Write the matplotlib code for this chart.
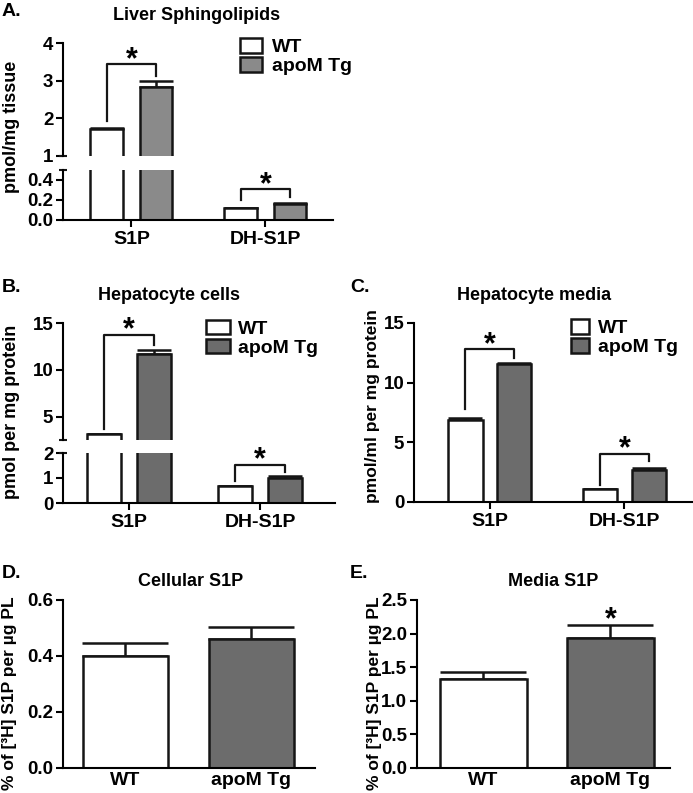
import matplotlib
matplotlib.use('Agg')
import matplotlib.pyplot as plt
from matplotlib.patches import Patch

plt.rcParams['font.family'] = ['Liberation Sans', 'DejaVu Sans']
plt.rcParams['font.weight'] = 'bold'
plt.rcParams['axes.linewidth'] = 1.5

# donnees
cats = ['S1P', 'DH-S1P']
groups = ['WT', 'apoM Tg']

liver_wt = [1.73, 0.12]
liver_wt_err = [0.02, 0.005]
liver_tg = [2.83, 0.16]
liver_tg_err = [0.16, 0.008]

cells_wt = [3.1, 0.68]
cells_wt_err = [0.08, 0.02]
cells_tg = [11.7, 1.02]
cells_tg_err = [0.42, 0.05]

media_wt = [6.9, 1.05]
media_wt_err = [0.15, 0.05]
media_tg = [11.55, 2.72]
media_tg_err = [0.12, 0.1]

cellular_s1p = [0.40, 0.46]
cellular_s1p_err = [0.045, 0.045]
media_s1p = [1.33, 1.93]
media_s1p_err = [0.10, 0.20]

# crochets de significativite : (pied gauche, haut, pied droit)
liver_brackets = [(1.92, 3.44, 3.12), (0.20, 0.31, 0.23)]
cells_brackets = [(3.64, 13.75, 12.7), (0.87, 1.53, 1.23)]
media_brackets = [(7.8, 12.8, 12.1), (1.45, 4.05, 3.4)]

W, H = 693, 793
fig = plt.figure(figsize=(W / 100, H / 100), dpi=100)

GRIS_A = '#8a8a8a'
GRIS = '#6c6c6c'
NOIR = '#151515'
T_TICK = 13.5
T_CAT = 14
T_TITRE = 13
T_LEG = 14


def boite(x0, y0, x1, y1):
    return [x0 / W, 1 - y1 / H, (x1 - x0) / W, (y1 - y0) / H]


def style(ax, bas=True):
    ax.spines['top'].set_visible(False)
    ax.spines['right'].set_visible(False)
    ax.spines['bottom'].set_visible(bas)
    ax.tick_params(axis='y', direction='out', length=5, width=1.5, labelsize=T_TICK, pad=2)
    if bas:
        ax.tick_params(axis='x', direction='out', length=5, width=1.5, labelsize=T_CAT, pad=3)
    else:
        ax.tick_params(axis='x', bottom=False, labelbottom=False)


def barres(ax, wt, wt_err, tg, tg_err, larg, dec, gris, cap):
    x = range(len(wt))
    xw = [i - dec for i in x]
    xt = [i + dec for i in x]
    ax.bar(xw, wt, larg, color='white', edgecolor=NOIR, linewidth=1.8, zorder=2)
    ax.bar(xt, tg, larg, color=gris, edgecolor=NOIR, linewidth=1.8, zorder=2)
    ax.errorbar(xw, wt, yerr=[[0] * len(wt), wt_err], fmt='none', ecolor=NOIR,
                elinewidth=1.8, capsize=cap, capthick=1.8, zorder=1)
    ax.errorbar(xt, tg, yerr=[[0] * len(tg), tg_err], fmt='none', ecolor=NOIR,
                elinewidth=1.8, capsize=cap, capthick=1.8, zorder=1)


def etoile(ax, x, y):
    ax.annotate('*', xy=(x, y), xytext=(0, 3), textcoords='offset points',
                ha='center', va='center', fontsize=22, annotation_clip=False)


def crochet(ax, i, dec, b):
    g, h, d = b
    ax.plot([i - dec, i - dec, i + dec, i + dec], [g, h, h, d], color=NOIR,
            linewidth=1.6, clip_on=False)
    etoile(ax, i, h)


def coupure(ax, ou):
    # petit trait horizontal au bout de l'axe coupe
    y = ax.get_ylim()[0] if ou == 'bas' else ax.get_ylim()[1]
    ax.plot([0], [y], marker='_', markersize=6, markeredgewidth=1.5, color=NOIR,
            transform=ax.get_yaxis_transform(), clip_on=False)


def legende(ax, x, y, hl, hh, pad, gris):
    poignees = [Patch(facecolor='white', edgecolor=NOIR, linewidth=1.8),
                Patch(facecolor=gris, edgecolor=NOIR, linewidth=1.8)]
    ax.legend(poignees, groups, loc='upper left', bbox_to_anchor=(x / W, 1 - y / H),
              bbox_transform=fig.transFigure, frameon=False, fontsize=T_LEG,
              handlelength=hl, handleheight=hh, handletextpad=pad,
              labelspacing=0.05, borderpad=0, borderaxespad=0)


# ---- A. Liver Sphingolipids
dA = 0.183
axA1 = fig.add_axes(boite(63, 43, 333, 156))
axA2 = fig.add_axes(boite(63, 170, 333, 220))
for ax in (axA1, axA2):
    barres(ax, liver_wt, liver_wt_err, liver_tg, liver_tg_err, 0.246, dA, GRIS_A, 12)
    ax.set_xlim(-0.511, 1.504)
axA1.set_ylim(1, 4)
axA1.set_yticks([1, 2, 3, 4])
axA2.set_ylim(0, 0.5)
axA2.set_yticks([0.0, 0.2, 0.4])
axA2.set_yticklabels(['0.0', '0.2', '0.4'])
axA2.set_xticks([0, 1])
axA2.set_xticklabels(cats)
style(axA1, bas=False)
style(axA2)
coupure(axA1, 'bas')
coupure(axA2, 'haut')
crochet(axA1, 0, dA, liver_brackets[0])
crochet(axA2, 1, dA, liver_brackets[1])
legende(axA1, 240, 38, 1.13, 0.8, 0.5, GRIS_A)
fig.text(2 / W, 1 - 12 / H, 'A.', fontsize=14, va='center', ha='left')
fig.text(197 / W, 1 - 15 / H, 'Liver Sphingolipids', fontsize=T_TITRE, ha='center', va='center')
fig.text(12 / W, 1 - 127 / H, 'pmol/mg tissue', fontsize=13, rotation=90, ha='center', va='center')

# ---- B. Hepatocyte cells
dB = 0.19
axB1 = fig.add_axes(boite(63, 323, 335, 440))
axB2 = fig.add_axes(boite(63, 453, 335, 503))
for ax in (axB1, axB2):
    barres(ax, cells_wt, cells_wt_err, cells_tg, cells_tg_err, 0.26, dB, GRIS, 12)
    ax.set_xlim(-0.504, 1.57)
axB1.set_ylim(2.5, 15)
axB1.set_yticks([5, 10, 15])
axB2.set_ylim(0, 2)
axB2.set_yticks([0, 1, 2])
axB2.set_xticks([0, 1])
axB2.set_xticklabels(cats)
style(axB1, bas=False)
style(axB2)
coupure(axB1, 'bas')
coupure(axB2, 'haut')
crochet(axB1, 0, dB, cells_brackets[0])
crochet(axB2, 1, dB, cells_brackets[1])
legende(axB1, 206, 320, 1.25, 0.75, 0.4, GRIS)
fig.text(2 / W, 1 - 288 / H, 'B.', fontsize=14, va='center', ha='left')
fig.text(169 / W, 1 - 295 / H, 'Hepatocyte cells', fontsize=T_TITRE, ha='center', va='center')
fig.text(12 / W, 1 - 412 / H, 'pmol per mg protein', fontsize=13, rotation=90, ha='center', va='center')

# ---- C. Hepatocyte media
dC = 0.182
axC = fig.add_axes(boite(414, 323, 693, 502))
barres(axC, media_wt, media_wt_err, media_tg, media_tg_err, 0.253, dC, GRIS, 12)
axC.set_xlim(-0.565, 1.51)
axC.set_ylim(0, 15)
axC.set_yticks([0, 5, 10, 15])
axC.set_xticks([0, 1])
axC.set_xticklabels(cats)
style(axC)
crochet(axC, 0, dC, media_brackets[0])
crochet(axC, 1, dC, media_brackets[1])
legende(axC, 571, 319, 0.9, 0.78, 0.5, GRIS)
fig.text(350 / W, 1 - 287 / H, 'C.', fontsize=14, va='center', ha='left')
fig.text(534 / W, 1 - 295 / H, 'Hepatocyte media', fontsize=T_TITRE, ha='center', va='center')
fig.text(373 / W, 1 - 406 / H, 'pmol/ml per mg protein', fontsize=12.5, rotation=90, ha='center', va='center')

# ---- D. Cellular S1P
axD = fig.add_axes(boite(63, 600, 315, 768))
axD.bar(range(2), cellular_s1p, 0.675, color=['white', GRIS], edgecolor=NOIR, linewidth=1.8, zorder=2)
axD.errorbar(range(2), cellular_s1p, yerr=[[0, 0], cellular_s1p_err], fmt='none', ecolor=NOIR,
             elinewidth=1.8, capsize=31, capthick=1.8, zorder=1)
axD.set_xlim(-0.496, 1.504)
axD.set_ylim(0, 0.6)
axD.set_yticks([0.0, 0.2, 0.4, 0.6])
axD.set_yticklabels(['0.0', '0.2', '0.4', '0.6'])
axD.set_xticks([0, 1])
axD.set_xticklabels(groups)
style(axD)
axD.tick_params(axis='x', length=0)
fig.text(2 / W, 1 - 573 / H, 'D.', fontsize=14, va='center', ha='left')
fig.text(191 / W, 1 - 582 / H, 'Cellular S1P', fontsize=T_TITRE, ha='center', va='center')
fig.text(10 / W, 1 - 693 / H, '% of [³H] S1P per µg PL', fontsize=12.5, rotation=90, ha='center', va='center')

# ---- E. Media S1P
axE = fig.add_axes(boite(417, 600, 670, 768))
axE.bar(range(2), media_s1p, 0.68, color=['white', GRIS], edgecolor=NOIR, linewidth=1.8, zorder=2)
axE.errorbar(range(2), media_s1p, yerr=[[0, 0], media_s1p_err], fmt='none', ecolor=NOIR,
             elinewidth=1.8, capsize=31, capthick=1.8, zorder=1)
axE.set_xlim(-0.524, 1.47)
axE.set_ylim(0, 2.5)
axE.set_yticks([0.0, 0.5, 1.0, 1.5, 2.0, 2.5])
axE.set_yticklabels(['0.0', '0.5', '1.0', '1.5', '2.0', '2.5'])
axE.set_xticks([0, 1])
axE.set_xticklabels(groups)
style(axE)
axE.tick_params(axis='x', length=0)
etoile(axE, 1, media_s1p[1] + media_s1p_err[1])
fig.text(350 / W, 1 - 574 / H, 'E.', fontsize=14, va='center', ha='left')
fig.text(553 / W, 1 - 582 / H, 'Media S1P', fontsize=T_TITRE, ha='center', va='center')
fig.text(375 / W, 1 - 693 / H, '% of [³H] S1P per µg PL', fontsize=12.5, rotation=90, ha='center', va='center')

plt.savefig('out.png', dpi=100)
